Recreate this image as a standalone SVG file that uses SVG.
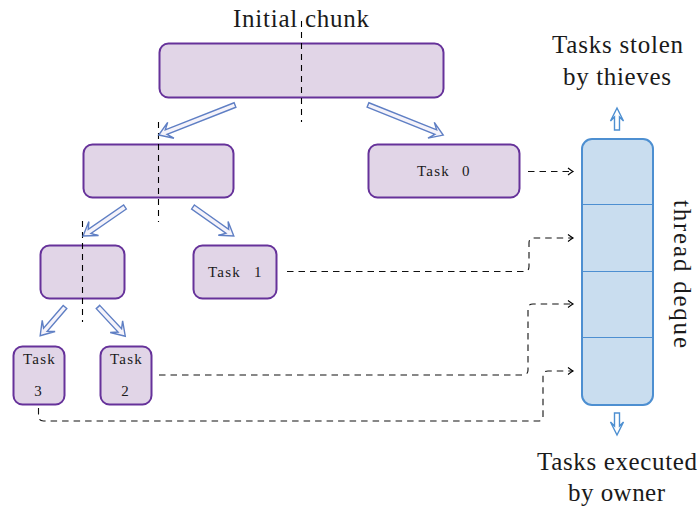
<svg xmlns="http://www.w3.org/2000/svg" width="700" height="509" viewBox="0 0 700 509">
<style>
.box{fill:#e1d5e7;stroke:#66329a;stroke-width:2}
.deque{fill:#c9ddef;stroke:#4d8fd1;stroke-width:2}
.div{stroke:#4d8fd1;stroke-width:1}
.split{stroke:#000;stroke-width:1.1;stroke-dasharray:6,5;fill:none}
.conn{stroke:#111;stroke-width:1.1;stroke-dasharray:6.5,5;fill:none}
.darr{fill:#f5f3fa;stroke:#5f7fc4;stroke-width:1.4;stroke-linejoin:miter}
.qarr{fill:#fff;stroke:#4d8fd1;stroke-width:1.4}
.lbl{font-family:"Liberation Serif","Times New Roman",serif;font-size:25px;fill:#1a1a1a}
.tsk{font-family:"Liberation Serif","Times New Roman",serif;font-size:15px;letter-spacing:1.2px;fill:#1a1a1a}
</style>
<defs>
<marker id="ah" markerUnits="userSpaceOnUse" markerWidth="12" markerHeight="12" viewBox="-6 -6 12 12" refX="0" refY="0" orient="auto">
<path d="M-5,-3.5 Q-1.5,-0.8 0,0 Q-1.5,0.8 -5,3.5" fill="none" stroke="#000" stroke-width="1.1"/>
</marker>
</defs>

<text class="lbl" x="301" y="27" text-anchor="middle" textLength="136" lengthAdjust="spacing">Initial chunk</text>

<g id="root"><rect class="box" x="159.5" y="43.5" width="284" height="54" rx="9"/></g>
<g id="mid"><rect class="box" x="83.5" y="144.5" width="150" height="53" rx="9"/></g>
<g id="task0"><rect class="box" x="368.5" y="144.5" width="151" height="53" rx="9"/>
<text class="tsk" x="417" y="176">Task <tspan x="462">0</tspan></text></g>
<g id="low"><rect class="box" x="40.5" y="245.5" width="84" height="53" rx="9"/></g>
<g id="task1"><rect class="box" x="193.5" y="245.5" width="83" height="53" rx="9"/>
<text class="tsk" x="208" y="277">Task <tspan x="254">1</tspan></text></g>
<g id="task3"><rect class="box" x="13.5" y="346.5" width="51" height="58" rx="9"/>
<text class="tsk" x="23" y="364">Task</text><text class="tsk" x="38.5" y="396" text-anchor="middle">3</text></g>
<g id="task2"><rect class="box" x="100.5" y="346.5" width="51" height="58" rx="9"/>
<text class="tsk" x="110" y="364">Task</text><text class="tsk" x="125.5" y="396" text-anchor="middle">2</text></g>

<g id="deque">
<rect class="deque" x="582" y="139" width="71" height="266" rx="10"/>
<line class="div" x1="582" y1="204.5" x2="653" y2="204.5"/>
<line class="div" x1="582" y1="271.5" x2="653" y2="271.5"/>
<line class="div" x1="582" y1="337.5" x2="653" y2="337.5"/>
<text class="lbl" transform="translate(674,274) rotate(90)" text-anchor="middle" textLength="148" lengthAdjust="spacing">thread deque</text>
</g>

<g id="stolen">
<path class="qarr" transform="translate(617,130) rotate(-90)" d="M0,-2.5 H13 L9,-6.5 L22,0 L9,6.5 L13,2.5 H0Z"/>
<text class="lbl" x="617.5" y="53" text-anchor="middle" textLength="131" lengthAdjust="spacing">Tasks stolen</text>
<text class="lbl" x="617" y="85" text-anchor="middle" textLength="108" lengthAdjust="spacing">by thieves</text>
</g>
<g id="executed">
<path class="qarr" transform="translate(617,413) rotate(90)" d="M0,-2.5 H13 L9,-6.5 L22,0 L9,6.5 L13,2.5 H0Z"/>
<text class="lbl" x="617" y="470" text-anchor="middle" textLength="160" lengthAdjust="spacing">Tasks executed</text>
<text class="lbl" x="616.5" y="501" text-anchor="middle" textLength="97" lengthAdjust="spacing">by owner</text>
</g>

<g id="connectors">
<line class="split" x1="301.5" y1="21" x2="301.5" y2="122"/>
<line class="split" x1="158.5" y1="122" x2="158.5" y2="222"/>
<line class="split" x1="82.5" y1="221" x2="82.5" y2="322"/>

<path class="darr" transform="translate(235,105) rotate(158.5)" d="M0,-2.4 H74 L69,-8.5 L82,0 L69,8.5 L74,2.4 H0Z"/>
<path class="darr" transform="translate(368,105) rotate(21.8)" d="M0,-2.4 H73 L68,-8.5 L81,0 L68,8.5 L73,2.4 H0Z"/>
<path class="darr" transform="translate(125,207) rotate(145.4)" d="M0,-2.4 H43 L38,-8.5 L51,0 L38,8.5 L43,2.4 H0Z"/>
<path class="darr" transform="translate(193,207) rotate(35.3)" d="M0,-2.4 H42 L37,-8.5 L50,0 L37,8.5 L42,2.4 H0Z"/>
<path class="darr" transform="translate(65,307) rotate(130.8)" d="M0,-2.4 H30 L25,-8.5 L38,0 L25,8.5 L30,2.4 H0Z"/>
<path class="darr" transform="translate(98,307) rotate(47)" d="M0,-2.4 H32 L27,-8.5 L40,0 L27,8.5 L32,2.4 H0Z"/>

<path class="conn" marker-end="url(#ah)" d="M528,171.5 H573"/>
<path class="conn" marker-end="url(#ah)" d="M287,271.5 H524 Q529,271.5 529,266.5 V243 Q529,238 534,238 H573"/>
<path class="conn" marker-end="url(#ah)" d="M159,375 H523 Q528,375 528,370 V309 Q528,304 533,304 H573"/>
<path class="conn" marker-end="url(#ah)" d="M38.5,408 V416 Q38.5,421 43.5,421 H538 Q543,421 543,416 V376 Q543,371 548,371 H573"/>
</g>
</svg>
